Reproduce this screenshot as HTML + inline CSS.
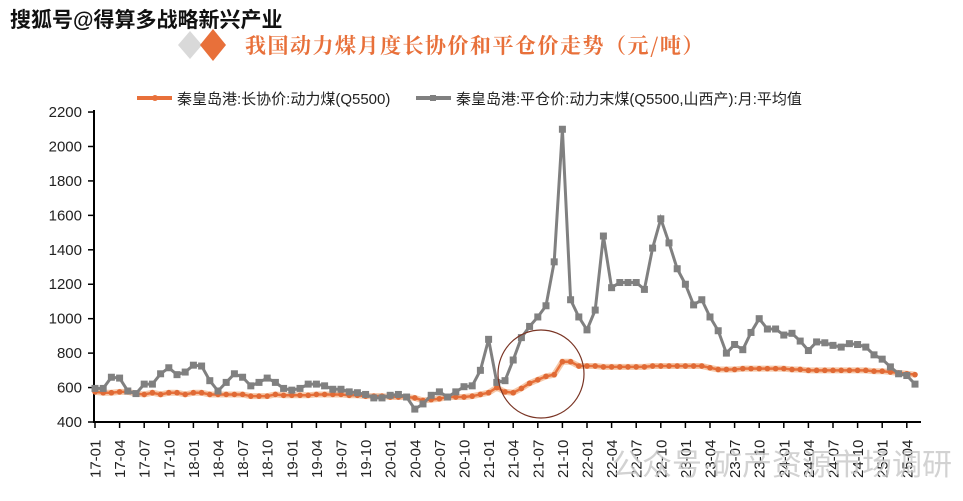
<!DOCTYPE html>
<html><head><meta charset="utf-8"><style>
body{margin:0;background:#fff;width:963px;height:501px;overflow:hidden}
svg{display:block}
</style></head><body>
<svg id="s" width="963" height="501" xmlns="http://www.w3.org/2000/svg" font-family="Liberation Sans, Noto Sans CJK SC, sans-serif">
<text x="10" y="27" font-size="21" font-weight="bold" fill="#111">搜狐号@得算多战略新兴产业</text>
<polygon points="190,31 202,45 190,59 178,45" fill="#d9d9d9"/>
<polygon points="213,29 226,45 213,61 200,45" fill="#e8703a"/>
<text x="245" y="53" font-size="21" font-weight="bold" fill="#e8703a" font-family="Noto Serif CJK SC, serif" letter-spacing="1.5">我国动力煤月度长协价和平仓价走势（元/吨）</text>
<line x1="137" y1="98" x2="172" y2="98" stroke="#e8703a" stroke-width="4"/><circle cx="155" cy="98" r="3" fill="#e8703a"/>
<text x="177" y="104" font-size="15" fill="#222">秦皇岛港:长协价:动力煤(Q5500)</text>
<line x1="416" y1="98" x2="451" y2="98" stroke="#808080" stroke-width="4"/><rect x="430" y="95" width="6" height="6" fill="#808080"/>
<text x="456" y="104" font-size="15" fill="#222">秦皇岛港:平仓价:动力末煤(Q5500,山西产):月:平均值</text>
<g id="ax"></g>
<text x="612" y="475" font-size="30" fill="#c8c8c8" opacity="0.8">公众号·矿产资源市场调研</text>
</svg>
<script>
const g=document.getElementById('ax');let h='';
const Y=v=>422-(v-400)*34.44/200, X=i=>95+i*8.2;
for(let v=400;v<=2200;v+=200){h+=`<text x="82" y="${Y(v)+5}" font-size="15" text-anchor="end" fill="#222">${v}</text>`}
h+=`<line x1="94" y1="110" x2="94" y2="423" stroke="#000" stroke-width="2"/><line x1="93" y1="422" x2="921" y2="422" stroke="#000" stroke-width="2"/>`;
for(let i=0;i<=99;i+=3){const yy=17+Math.floor(i/12),m=i%12+1;const x=X(i);
h+=`<line x1="${x}" y1="422" x2="${x}" y2="428" stroke="#000" stroke-width="1.5"/>`;
h+=`<text transform="translate(${x+5.5},478) rotate(-90)" font-size="15" fill="#222">${yy}-${String(m).padStart(2,'0')}</text>`;}
for(let v=400;v<=2200;v+=200){h+=`<line x1="88" y1="${Y(v)}" x2="94" y2="${Y(v)}" stroke="#000" stroke-width="1.5"/>`}
const gr=[595,595,660,655,580,565,620,620,680,715,675,690,730,725,640,580,630,680,660,610,630,655,630,595,585,595,620,620,610,590,590,575,570,560,540,540,555,560,545,475,505,555,575,545,575,605,610,700,880,630,640,760,890,955,1010,1075,1330,2100,1110,1010,935,1050,1480,1180,1210,1210,1210,1170,1410,1580,1440,1290,1200,1080,1110,1010,930,800,850,820,920,1000,940,940,905,915,870,815,865,860,845,835,855,850,835,790,765,720,680,670,620];
const or=[575,570,570,575,575,565,560,570,560,570,570,560,570,570,560,560,560,560,560,550,550,550,560,555,555,555,555,560,560,560,560,555,555,550,550,550,545,545,545,540,525,530,535,545,545,545,550,560,570,600,575,570,595,625,645,665,675,750,750,725,725,725,720,720,720,720,720,720,725,725,725,725,725,725,725,715,705,705,705,710,710,710,710,710,710,705,705,700,700,700,700,700,700,700,700,695,695,690,685,680,675];
h+=`<polyline fill="none" stroke="#f5c7a8" stroke-width="6" points="${or.map((v,i)=>X(i)+','+Y(v)).join(' ')}"/>`;
h+=`<polyline fill="none" stroke="#e8703a" stroke-width="2.5" points="${or.map((v,i)=>X(i)+','+Y(v)).join(' ')}"/>`;
or.forEach((v,i)=>h+=`<circle cx="${X(i)}" cy="${Y(v)}" r="2.8" fill="#e06a35"/>`);
h+=`<polyline fill="none" stroke="#808080" stroke-width="3" points="${gr.map((v,i)=>X(i)+','+Y(v)).join(' ')}"/>`;
gr.forEach((v,i)=>h+=`<rect x="${X(i)-3.5}" y="${Y(v)-3.5}" width="7" height="7" fill="#808080"/>`);
h+=`<ellipse cx="541" cy="374" rx="43" ry="44" fill="none" stroke="#7a3525" stroke-width="1.2"/>`;
g.innerHTML=h;
</script>
</body></html>
